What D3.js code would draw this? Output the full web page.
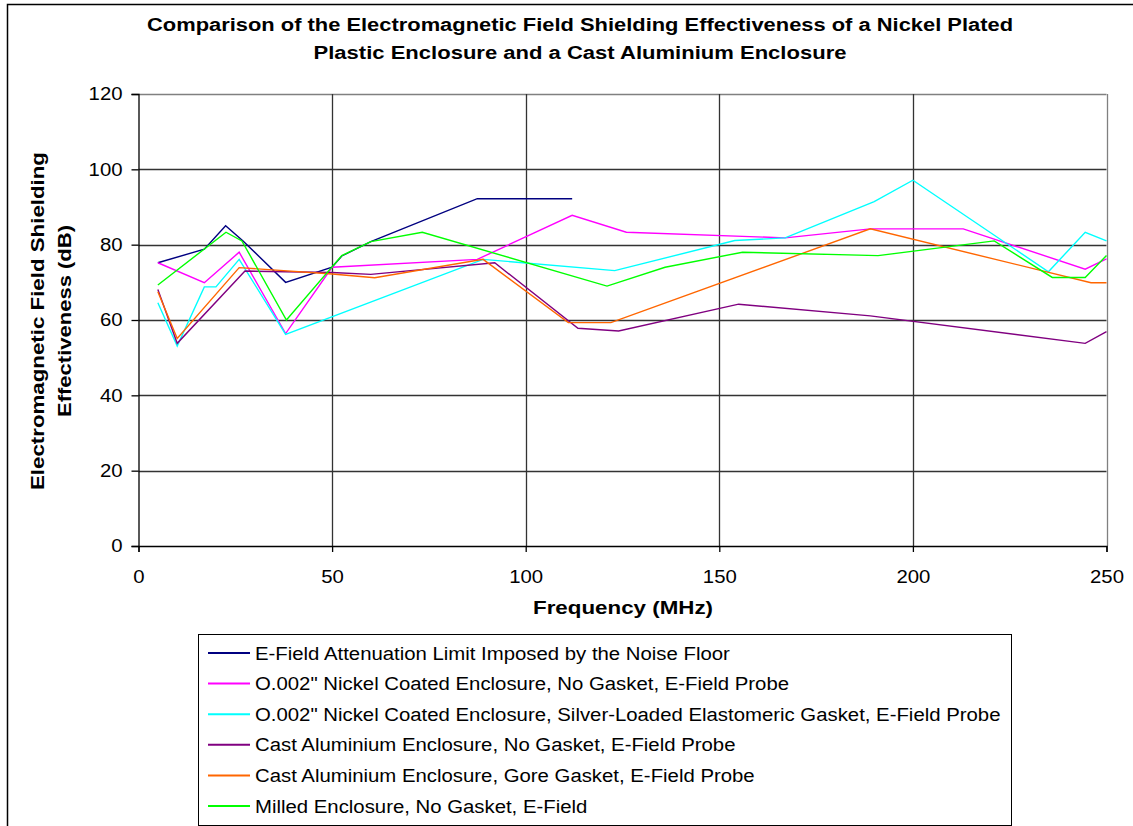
<!DOCTYPE html>
<html>
<head>
<meta charset="utf-8">
<script src="https://cdn.jsdelivr.net/npm/d3@7"></script>
<style>
  body { margin: 0; background: #fff; }
  text { font-family: "Liberation Sans", Arial, sans-serif; }
</style>
</head>
<body>
<script>
var titleLines = ["Comparison of the Electromagnetic Field Shielding Effectiveness of a Nickel Plated",
                  "Plastic Enclosure and a Cast Aluminium Enclosure"];
var yLabelLines = ["Electromagnetic Field Shielding", "Effectiveness (dB)"];
var xLabel = "Frequency (MHz)";
var xTicks = [0, 50, 100, 150, 200, 250];
var yTicks = [0, 20, 40, 60, 80, 100, 120];

var seriesNames = [
  "E-Field Attenuation Limit Imposed by the Noise Floor",
  "O.002\" Nickel Coated Enclosure, No Gasket, E-Field Probe",
  "O.002\" Nickel Coated Enclosure, Silver-Loaded Elastomeric Gasket, E-Field Probe",
  "Cast Aluminium Enclosure, No Gasket, E-Field Probe",
  "Cast Aluminium Enclosure, Gore Gasket, E-Field Probe",
  "Milled Enclosure, No Gasket, E-Field"
];
var seriesColors = ["#000080", "#ff00ff", "#00ffff", "#800080", "#ff6600", "#00ff00"];

var noiseFreq = [5, 17, 22.5, 27, 38, 50, 52.5, 60, 87.5, 112];
var noiseDb   = [75.2, 78.8, 85, 81, 70, 74, 77, 80.8, 92.2, 92.2];

var nickelFreq = [5, 17, 26, 38, 50, 87.5, 112, 126, 167, 189, 213, 244.5, 250];
var nickelDb   = [75.2, 69.9, 78, 56.4, 74, 76.1, 87.8, 83.3, 81.8, 84.2, 84.2, 73.5, 76.2];

var nickelGasketFreq = [5, 10, 17, 20, 26, 38, 89, 123, 154, 167, 190, 200, 235, 244.5, 250];
var nickelGasketDb   = [64.6, 53.1, 68.8, 68.8, 76.1, 56.2, 76.1, 73.1, 81.1, 81.8, 91.4, 97.1, 72.8, 83.3, 81];

var castFreq = [5, 10, 27.5, 50, 60, 92, 113.5, 124, 155, 189, 244.5, 250];
var castDb   = [68.1, 53.8, 73, 72.6, 72.1, 75.2, 57.8, 57.1, 64.2, 61.1, 53.8, 56.9];

var castGoreFreq = [5, 10, 26, 50, 61, 89, 111, 122, 189, 246, 250];
var castGoreDb   = [67.5, 55.1, 73.9, 72.2, 71.2, 76.1, 59.3, 59.3, 84.2, 69.9, 69.9];

var milledFreq = [5, 22.6, 26.7, 38.2, 52.5, 60, 73.3, 121, 136, 156, 191, 221, 236, 244.5, 250];
var milledDb   = [69.3, 83.3, 81, 60, 77.1, 80.8, 83.3, 69, 74, 78, 77.1, 81, 71.3, 71.3, 77.1];

var allFreq = [noiseFreq, nickelFreq, nickelGasketFreq, castFreq, castGoreFreq, milledFreq];
var allDb = [noiseDb, nickelDb, nickelGasketDb, castDb, castGoreDb, milledDb];

var W = 1133, H = 826;
var plot = {left: 138.5, top: 94, right: 1106.5, bottom: 546};
var stretch = 1.13; // the original's lettering is a little wide

var svg = d3.select("body").append("svg")
  .attr("width", W)
  .attr("height", H);

// widen a text selection by the stretch factor, keeping its anchor
function widen(sel, factor) {
  sel.each(function() {
    var len = this.getComputedTextLength();
    d3.select(this)
      .attr("textLength", len * factor)
      .attr("lengthAdjust", "spacingAndGlyphs");
  });
}

// outer chart frame
svg.append("rect")
  .attr("x", 7.5).attr("y", 4.5)
  .attr("width", W + 20).attr("height", H + 20)
  .attr("fill", "none")
  .attr("stroke", "#000")
  .attr("stroke-width", 1.5);

var x = d3.scaleLinear().domain([0, 250]).range([plot.left, plot.right]);
var y = d3.scaleLinear().domain([0, 120]).range([plot.bottom, plot.top]);

// title
var titleWidths = [866, 533];
svg.append("g").selectAll("text")
  .data(titleLines)
  .enter().append("text")
    .attr("x", 580)
    .attr("y", function(d, i) { return 31 + i * 28; })
    .attr("text-anchor", "middle")
    .attr("textLength", function(d, i) { return titleWidths[i]; })
    .attr("lengthAdjust", "spacingAndGlyphs")
    .style("font-size", "18px")
    .style("font-weight", "bold")
    .text(function(d) { return d; });

// grid
svg.append("g").selectAll("line")
  .data(yTicks.slice(1))
  .enter().append("line")
    .attr("x1", plot.left).attr("x2", plot.right)
    .attr("y1", function(d) { return Math.round(y(d)) + 0.5; })
    .attr("y2", function(d) { return Math.round(y(d)) + 0.5; })
    .attr("stroke", function(d) { return d === 120 ? "#808080" : "#333"; })
    .attr("stroke-width", 1.3);

svg.append("g").selectAll("line")
  .data(xTicks.slice(1))
  .enter().append("line")
    .attr("y1", plot.top).attr("y2", plot.bottom)
    .attr("x1", function(d) { return Math.round(x(d)) + 0.5; })
    .attr("x2", function(d) { return Math.round(x(d)) + 0.5; })
    .attr("stroke", function(d) { return d === 250 ? "#808080" : "#333"; })
    .attr("stroke-width", 1.3);

// axes
var yAxis = svg.append("g")
  .attr("transform", "translate(" + plot.left + ",0)")
  .call(d3.axisLeft(y).tickValues(yTicks).tickSize(7).tickPadding(9));
var xAxis = svg.append("g")
  .attr("transform", "translate(0," + plot.bottom + ")")
  .call(d3.axisBottom(x).tickValues(xTicks).tickSize(6).tickPadding(18));

[xAxis, yAxis].forEach(function(a) {
  a.select(".domain").attr("stroke", "#000").attr("stroke-width", 1.3);
  a.selectAll(".tick line").attr("stroke", "#000").attr("stroke-width", 1.3);
  a.selectAll(".tick text")
    .attr("fill", "#000")
    .style("font-size", "18px")
    .style("font-family", "'Liberation Sans', Arial, sans-serif")
    .call(widen, stretch);
});

// axis labels
svg.append("text")
  .attr("x", 623).attr("y", 614)
  .attr("text-anchor", "middle")
  .attr("textLength", 180)
  .attr("lengthAdjust", "spacingAndGlyphs")
  .style("font-size", "18px")
  .style("font-weight", "bold")
  .text(xLabel);

var yLabelWidths = [338, 192];
svg.append("g").selectAll("text")
  .data(yLabelLines)
  .enter().append("text")
    .attr("transform", function(d, i) { return "translate(" + (44 + i * 27) + ",321) rotate(-90)"; })
    .attr("text-anchor", "middle")
    .attr("textLength", function(d, i) { return yLabelWidths[i]; })
    .attr("lengthAdjust", "spacingAndGlyphs")
    .style("font-size", "18px")
    .style("font-weight", "bold")
    .text(function(d) { return d; });

// series lines
var line = d3.line()
  .x(function(d) { return x(d[0]); })
  .y(function(d) { return y(d[1]); });

svg.append("g").selectAll("path")
  .data(allFreq.map(function(f, i) { return d3.zip(f, allDb[i]); }))
  .enter().append("path")
    .attr("d", line)
    .attr("fill", "none")
    .attr("stroke", function(d, i) { return seriesColors[i]; })
    .attr("stroke-width", 1.4);

// legend
var legend = svg.append("g");
legend.append("rect")
  .attr("x", 198.5).attr("y", 634.5)
  .attr("width", 813).attr("height", 191)
  .attr("fill", "#fff")
  .attr("stroke", "#000")
  .attr("stroke-width", 1);

var rows = legend.selectAll("g.row")
  .data(seriesNames)
  .enter().append("g")
    .attr("class", "row")
    .attr("transform", function(d, i) { return "translate(0," + (653 + i * 30.6) + ")"; });

rows.append("line")
  .attr("x1", 208).attr("x2", 250)
  .attr("y1", 0).attr("y2", 0)
  .attr("stroke", function(d, i) { return seriesColors[i]; })
  .attr("stroke-width", 2);

rows.append("text")
  .attr("x", 255).attr("y", 6.5)
  .style("font-size", "18px")
  .text(function(d) { return d; })
  .call(widen, stretch);
</script>
</body>
</html>
